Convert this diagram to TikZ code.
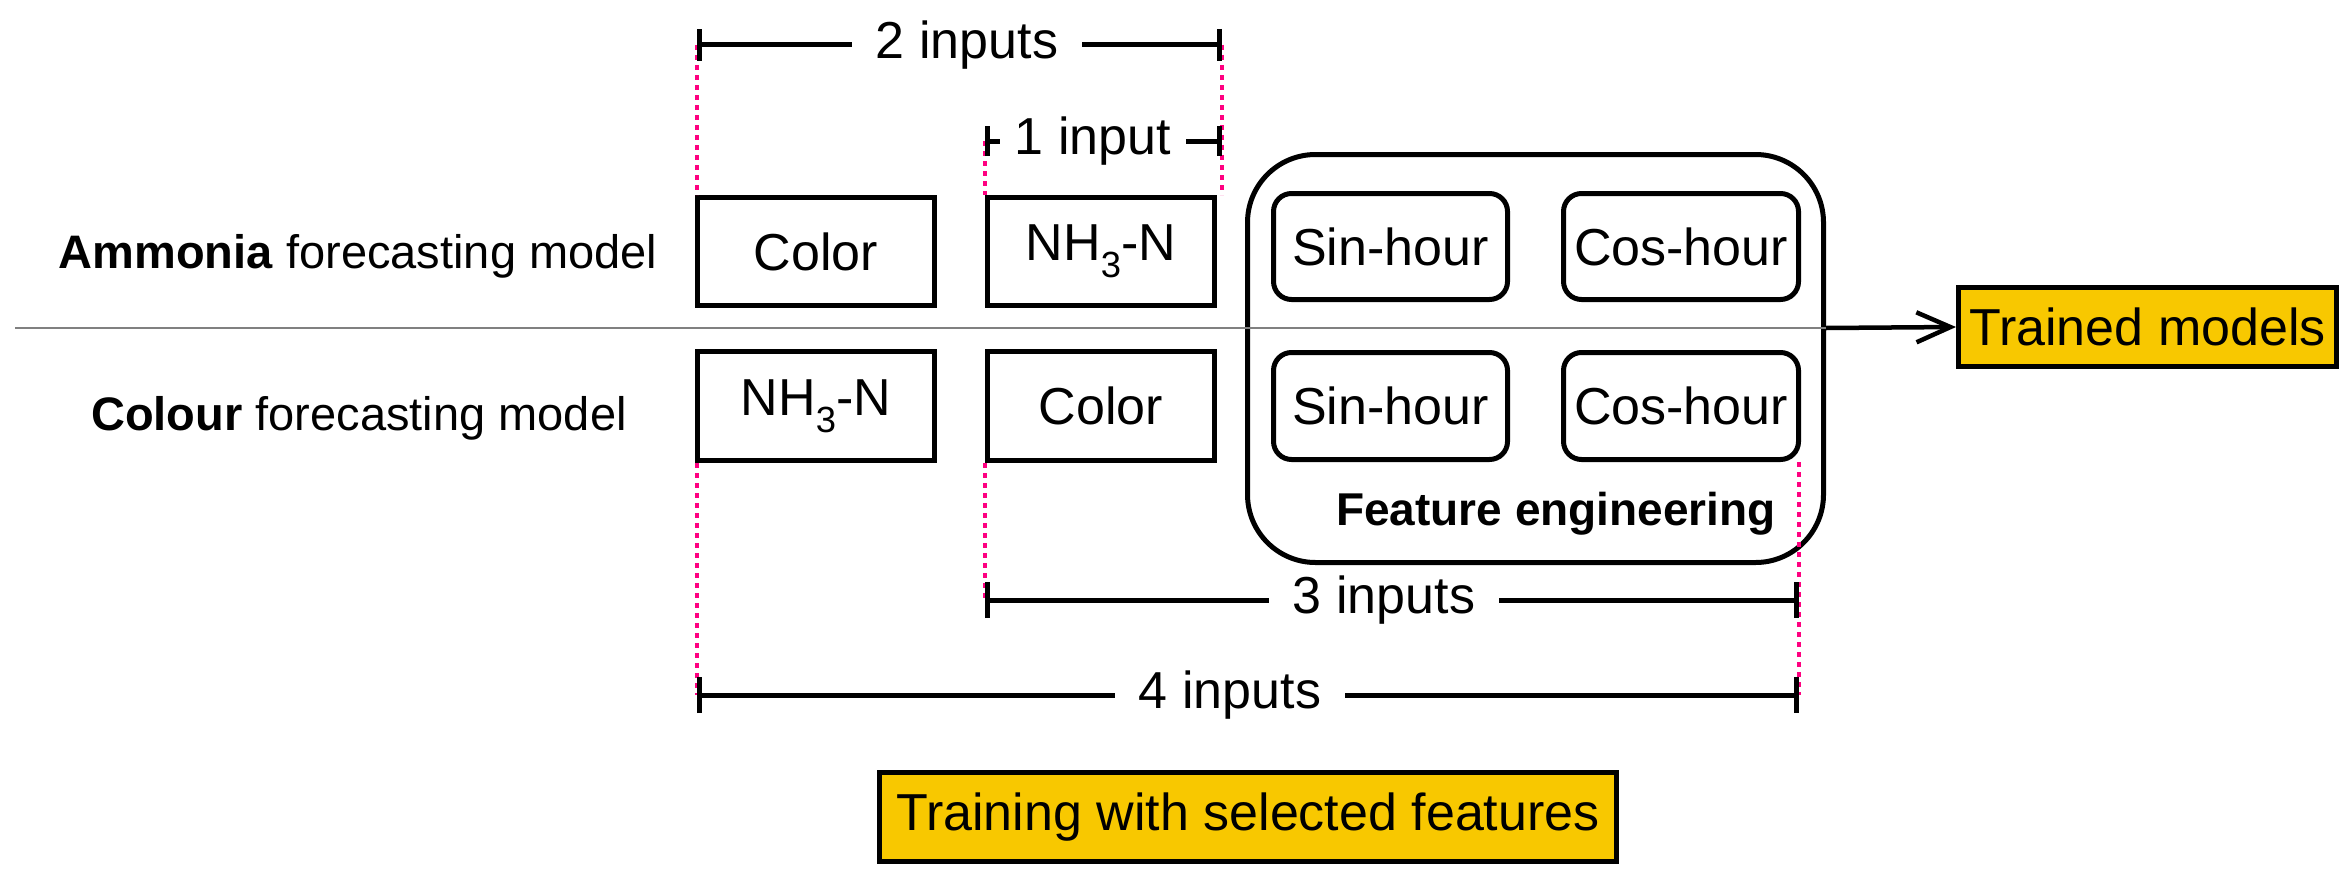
\documentclass[tikz,border=0pt]{standalone}
\usepackage{fontspec}
\setmainfont{Liberation Sans}
\usetikzlibrary{arrows.meta,calc}
\definecolor{gold}{RGB}{248,200,0}
\definecolor{pinkdot}{RGB}{255,0,128}
\definecolor{greyline}{RGB}{128,128,128}
\begin{document}
\begin{tikzpicture}[x=1pt,y=-1pt,
  featbox/.style={draw, line width=5pt, inner sep=0pt, font=\fontsize{52}{60}\selectfont},
  roundbox/.style={featbox, rounded corners=18pt},
  goldbox/.style={featbox, fill=gold},
  dimlabel/.style={inner xsep=24pt, inner ysep=0pt, font=\fontsize{52}{60}\selectfont},
  dimline/.style={line width=5pt},
  dotline/.style={draw=pinkdot, line width=4.5pt, dash pattern=on 5pt off 5pt},
  sidelabel/.style={font=\fontsize{47}{56}\selectfont, inner sep=0pt, anchor=base}
]
\useasboundingbox (0,0) rectangle (2352,883);

% input boxes
\node[featbox, minimum width=237pt, minimum height=108pt] (colA) at (816,251.5) {Color};
\node[featbox, minimum width=227pt, minimum height=108pt] (nhA) at (1101,251.5) {NH\textsubscript{3}-N};
\node[featbox, minimum width=237pt, minimum height=109pt] (nhB) at (816,406) {NH\textsubscript{3}-N};
\node[featbox, minimum width=227pt, minimum height=109pt] (colB) at (1101,406) {Color};

% feature engineering
\node[draw, line width=5pt, rounded corners=68pt, minimum width=576pt, minimum height=408pt, inner sep=0pt] (big) at (1535.5,358.5) {};
\node[roundbox, minimum width=234pt, minimum height=106pt] (sinA) at (1390.5,246.5) {Sin-hour};
\node[roundbox, minimum width=235pt, minimum height=106pt] (cosA) at (1681,246.5) {Cos-hour};
\node[roundbox, minimum width=234pt, minimum height=107pt] (sinB) at (1390.5,406) {Sin-hour};
\node[roundbox, minimum width=235pt, minimum height=107pt] (cosB) at (1681,406) {Cos-hour};
\node[font=\fontsize{46}{54}\selectfont\bfseries, inner sep=0pt, anchor=base] (fe) at (1556,525) {Feature engineering};

% outputs
\node[goldbox, minimum width=378pt, minimum height=79pt] (trained) at (2147.5,327) {Trained models};
\node[goldbox, minimum width=737pt, minimum height=89pt] (training) at (1248,817) {Training with selected features};

% side labels
\node[sidelabel] (amm) at (358,268) {\textbf{Ammonia} forecasting model};
\node[sidelabel] (col) at (359,430) {\textbf{Colour} forecasting model};

% separator and arrow
\coordinate (gl) at (15,328);
\draw[greyline, line width=2.5pt] (gl) -- (gl -| big.east);
\draw[line width=4.5pt, -{Straight Barb[length=34pt,width=30pt,line width=4.5pt]}] (gl -| big.east) -- (trained.west);

% dimension coordinates
\coordinate (d2a) at (697,45);
\coordinate (d2b) at (1222,45);
\coordinate (d1a) at (985,141);
\coordinate (d1b) at (1222,141);
\coordinate (d3a) at (985,600);
\coordinate (d3b) at (1799,600);
\coordinate (d4a) at (697,695);
\coordinate (d4b) at (1799,695);

% pink dotted guides
\draw[dotline] (d2a) -- (d2a |- colA.north);
\draw[dotline] (d2b) -- (d2b |- nhA.north);
\draw[dotline] (d1a) -- (d1a |- nhA.north);
\draw[dotline] (d4a |- nhB.south) -- (d4a);
\draw[dotline] (d3a |- colB.south) -- (d3a);
\draw[dotline] (d4b |- cosB.south) -- (d4b);

% dimension labels and bars
\node[dimlabel] (l2) at (967,45) {2 inputs};
\node[dimlabel, inner xsep=15pt] (l1) at (1093,141) {1 input};
\node[dimlabel] (l3) at (1384,600) {3 inputs};
\node[dimlabel] (l4) at (1230,695) {4 inputs};

\draw[dimline, {Bar[width=32pt,line width=5pt]}-] (d2a) -- (l2.west |- d2a);
\draw[dimline, -{Bar[width=32pt,line width=5pt]}] (l2.east |- d2b) -- (d2b);
\draw[dimline, {Bar[width=30pt,line width=5pt]}-] (d1a) -- (l1.west |- d1a);
\draw[dimline, -{Bar[width=30pt,line width=5pt]}] (l1.east |- d1b) -- (d1b);
\draw[dimline, {Bar[width=36pt,line width=5pt]}-] (d3a) -- (l3.west |- d3a);
\draw[dimline, -{Bar[width=36pt,line width=5pt]}] (l3.east |- d3b) -- (d3b);
\draw[dimline, {Bar[width=36pt,line width=5pt]}-] (d4a) -- (l4.west |- d4a);
\draw[dimline, -{Bar[width=36pt,line width=5pt]}] (l4.east |- d4b) -- (d4b);
\end{tikzpicture}
\end{document}
